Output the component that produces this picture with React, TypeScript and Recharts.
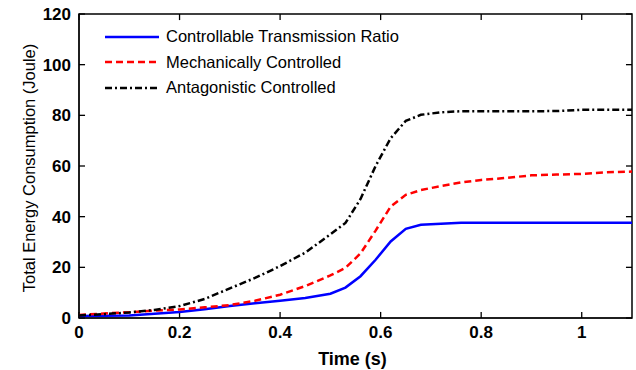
import React from 'react';
import { LineChart, Line, XAxis, YAxis, Legend, ReferenceLine, ReferenceArea } from 'recharts';

const time = [0, 0.05, 0.1, 0.15, 0.2, 0.25, 0.3, 0.35, 0.4, 0.45, 0.5, 0.53, 0.56, 0.59, 0.62, 0.65, 0.68, 0.72, 0.76, 0.8, 0.85, 0.9, 0.95, 1.0, 1.05, 1.1];
const ctrData = [0.8, 0.9, 1.0, 1.7, 2.4, 3.5, 4.7, 5.8, 6.8, 7.9, 9.6, 12.0, 16.5, 23.0, 30.2, 35.2, 36.8, 37.2, 37.6, 37.6, 37.6, 37.6, 37.6, 37.6, 37.6, 37.6];
const mechData = [1.2, 1.8, 2.3, 2.9, 3.4, 4.2, 5.1, 6.8, 9.2, 12.6, 16.8, 19.8, 25.5, 34.5, 44.0, 48.6, 50.5, 52.1, 53.5, 54.5, 55.3, 56.3, 56.6, 56.9, 57.5, 57.8];
const antaData = [1.0, 1.5, 2.2, 3.2, 4.7, 7.5, 11.7, 15.8, 20.5, 25.8, 33.0, 37.5, 47.0, 60.0, 71.0, 77.8, 80.2, 81.2, 81.6, 81.6, 81.6, 81.6, 81.7, 82.2, 82.2, 82.2];

const xTicks = [0, 0.2, 0.4, 0.6, 0.8, 1];
const yTicks = [0, 20, 40, 60, 80, 100, 120];
const seriesNames = ['Controllable Transmission Ratio', 'Mechanically Controlled', 'Antagonistic Controlled'];
const seriesColors = ['#0000ff', '#ff0000', '#000000'];
const seriesDash = ['', '7 4', '7 3 2 3'];
const seriesKeys = ['ctr', 'mech', 'anta'];

const X_MIN = 0;
const X_MAX = 1.1;
const Y_MIN = 0;
const Y_MAX = 120;
const X_TICK_LEN = 2.4;
const Y_TICK_LEN = 0.012;

const data = time.map((t, i) => ({ t, ctr: ctrData[i], mech: mechData[i], anta: antaData[i] }));

const FONT = '"Liberation Sans", Arial, sans-serif';
const tickStyle = { fill: '#000', fontSize: 17, fontWeight: 'bold', fontFamily: FONT };

const LegendContent = () => (
  <div style={{ fontFamily: FONT, fontSize: 16.5, color: '#000' }}>
    {seriesNames.map((name, i) => (
      <div key={name} style={{ display: 'flex', alignItems: 'center', height: 25.6 }}>
        <svg width={54} height={6} style={{ marginRight: 7 }}>
          <line x1={0} x2={54} y1={3} y2={3} stroke={seriesColors[i]} strokeWidth={2.5} strokeDasharray={seriesDash[i] || undefined} />
        </svg>
        <span style={{ whiteSpace: 'nowrap' }}>{name}</span>
      </div>
    ))}
  </div>
);

const tickSegments = [
  ...xTicks.map((v) => ({ id: `b${v}`, seg: [{ x: v, y: Y_MIN }, { x: v, y: Y_MIN + X_TICK_LEN }] })),
  ...xTicks.map((v) => ({ id: `t${v}`, seg: [{ x: v, y: Y_MAX }, { x: v, y: Y_MAX - X_TICK_LEN }] })),
  ...yTicks.map((v) => ({ id: `l${v}`, seg: [{ x: X_MIN, y: v }, { x: X_MIN + Y_TICK_LEN, y: v }] })),
  ...yTicks.map((v) => ({ id: `r${v}`, seg: [{ x: X_MAX, y: v }, { x: X_MAX - Y_TICK_LEN, y: v }] })),
];

export default function App() {
  return (
    <div style={{ position: 'absolute', left: 0, top: 0, width: 636, height: 370, background: '#fff' }}>
      <LineChart width={636} height={370} data={data} margin={{ top: 14, right: 4, left: 0, bottom: 0 }}>
        <XAxis
          dataKey="t"
          type="number"
          domain={[X_MIN, X_MAX]}
          ticks={xTicks}
          height={52}
          tick={tickStyle}
          tickLine={false}
          stroke="#000"
          label={{ value: 'Time (s)', position: 'insideBottom', offset: 5, dx: -3, fill: '#000', fontSize: 18, fontWeight: 'bold', fontFamily: FONT }}
        />
        <YAxis
          type="number"
          domain={[Y_MIN, Y_MAX]}
          ticks={yTicks}
          width={79}
          tick={tickStyle}
          tickLine={false}
          stroke="#000"
          label={{ value: 'Total Energy Consumption (Joule)', angle: -90, position: 'center', dx: -10, dy: 2, fill: '#000', fontSize: 16.5, fontFamily: FONT }}
        />
        <ReferenceArea x1={X_MIN} x2={X_MAX} y1={Y_MIN} y2={Y_MAX} fill="none" stroke="black" strokeWidth={1.5} ifOverflow="visible" />
        {tickSegments.map((s) => (
          <ReferenceLine key={s.id} segment={s.seg} stroke="black" strokeWidth={1.3} />
        ))}
        {seriesKeys.map((k, i) => (
          <Line
            key={k}
            dataKey={k}
            name={seriesNames[i]}
            stroke={seriesColors[i]}
            strokeWidth={2.5}
            strokeDasharray={seriesDash[i] || undefined}
            dot={false}
            activeDot={false}
            isAnimationActive={false}
          />
        ))}
        <Legend
          layout="vertical"
          align="center"
          verticalAlign="middle"
          content={<LegendContent />}
          wrapperStyle={{ left: 105, top: 24, width: 'auto' }}
        />
      </LineChart>
    </div>
  );
}
